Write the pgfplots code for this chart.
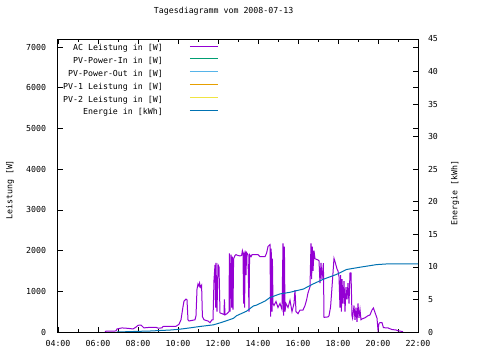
\documentclass[border=0pt]{standalone}
\usepackage{fontspec}
\setmainfont{DejaVu Sans Mono}
\usepackage{pgfplots}
\pgfplotsset{compat=1.18}
\definecolor{cac}{HTML}{9400D3}
\definecolor{cin}{HTML}{009E73}
\definecolor{cout}{HTML}{56B4E9}
\definecolor{cpv1}{HTML}{E69F00}
\definecolor{cpv2}{HTML}{F0E442}
\definecolor{cen}{HTML}{0072B2}
\begin{document}
\begin{tikzpicture}[font=\fontsize{8.3}{10}\selectfont]
\path[use as bounding box] (-58bp,-28bp) rectangle (422bp,332bp);
\pgfplotsset{
  common/.style={
    scale only axis, width=360bp, height=293bp,
    at={(0,0)}, anchor=south west,
    xmin=4, xmax=22,
    tick align=inside, major tick length=5bp, minor tick length=3bp,
    tick style={black, line width=0.7bp},
    axis line style={line width=1bp},
    /pgf/number format/assume math mode=true,
    /pgf/number format/1000 sep={},
  }
}
\begin{axis}[common,
  ymin=0, ymax=7200,
  xtick={4,6,...,22},
  xticklabels={04:00,06:00,08:00,10:00,12:00,14:00,16:00,18:00,20:00,22:00},
  minor x tick num=1,
  ytick={0,1000,...,7000},
  xticklabel style={inner sep=0pt, outer sep=0pt, yshift=-8bp},
  yticklabel style={inner sep=0pt, outer sep=0pt, xshift=-12bp},
  ylabel={Leistung [W]},
  ylabel style={at={(axis description cs:-0.133,0.485)}, anchor=center},
  title={Tagesdiagramm vom 2008-07-13},
  title style={at={(axis description cs:0.46,1.075)}, anchor=center, inner sep=0pt},
  legend plot pos=right,
  legend cell align=right,
  legend image code/.code={\draw[#1] (0bp,2.8bp) -- (28bp,2.8bp);},
  legend style={draw=none, fill=none, at={(axis description cs:0.0139,0.9805)}, anchor=north west,
    inner sep=0pt, row sep=4.8bp, column sep=26.7bp,
    nodes={inner sep=0pt, outer sep=0pt, text height=6bp, text depth=2bp}},
]
\addplot[color=cac, line width=1bp] coordinates {
(6.35,0) (6.4,20) (6.9,25) (6.95,75) (7.2,100) (7.35,95) (7.5,90) (7.75,75) (7.9,120) (8.0,165) (8.15,170) (8.3,100) (8.45,110) (8.9,115) (9.0,95) (9.2,100) (9.25,135) (9.9,140) (10.05,190) (10.15,300) (10.25,620) (10.3,760) (10.4,810) (10.45,790) (10.5,300) (10.55,270) (10.85,300) (10.9,400) (10.95,1050) (11.0,1180) (11.05,1130) (11.08,1200) (11.12,1100) (11.18,1150) (11.22,380) (11.3,300) (11.5,270) (11.6,230) (11.7,300) (11.75,300) (11.8,1280) (11.85,1650) (11.88,600) (11.9,1700) (11.95,500) (12.0,1650) (12.05,1600) (12.1,470) (12.2,450) (12.3,430) (12.32,800) (12.35,420) (12.45,450) (12.55,500) (12.57,1930) (12.6,500) (12.65,1900) (12.68,600) (12.72,1850) (12.75,550) (12.78,1800) (12.85,1880) (12.9,1900) (13.0,1880) (13.1,1870) (13.18,1880) (13.22,2000) (13.25,1950) (13.28,700) (13.3,1950) (13.33,600) (13.36,2000) (13.4,1400) (13.43,1950) (13.5,1900) (13.55,500) (13.58,1900) (13.65,1850) (13.7,1900) (14.0,1900) (14.1,1850) (14.35,1850) (14.43,1940) (14.5,2100) (14.6,2150) (14.63,380) (14.66,2050) (14.7,500) (14.72,1800) (14.75,700) (14.8,650) (14.9,750) (15.0,600) (15.1,700) (15.2,550) (15.25,2180) (15.28,400) (15.32,2100) (15.35,500) (15.4,700) (15.5,600) (15.6,780) (15.7,500) (15.8,700) (15.85,1030) (15.9,500) (16.0,450) (16.1,540) (16.25,540) (16.35,650) (16.43,790) (16.5,960) (16.6,1110) (16.65,2180) (16.68,1300) (16.72,2100) (16.75,1500) (16.8,2000) (16.85,1800) (17.0,1770) (17.05,1750) (17.1,1200) (17.15,1700) (17.2,1300) (17.27,1690) (17.3,360) (17.5,370) (17.55,400) (17.63,620) (17.7,1100) (17.8,1810) (17.85,1730) (17.95,1550) (18.0,1500) (18.05,1360) (18.1,600) (18.13,1400) (18.17,500) (18.2,1300) (18.25,700) (18.3,1250) (18.35,500) (18.4,1100) (18.45,800) (18.5,1200) (18.55,700) (18.6,1450) (18.65,1450) (18.7,400) (18.73,340) (18.8,650) (18.85,300) (18.9,600) (18.95,250) (19.0,700) (19.05,350) (19.1,550) (19.15,300) (19.2,320) (19.35,350) (19.5,400) (19.6,420) (19.7,540) (19.77,590) (19.85,480) (19.95,340) (20.0,50) (20.05,210) (20.1,230) (20.2,230) (20.27,110) (20.4,100) (20.5,100) (20.7,60) (20.9,50) (21.0,30) (21.25,10)
};
\addlegendentry{AC Leistung in [W]}
\addlegendimage{color=cin, line width=1bp}
\addlegendentry{PV-Power-In in [W]}
\addlegendimage{color=cout, line width=1bp}
\addlegendentry{PV-Power-Out in [W]}
\addlegendimage{color=cpv1, line width=1bp}
\addlegendentry{PV-1 Leistung in [W]}
\addlegendimage{color=cpv2, line width=1bp}
\addlegendentry{PV-2 Leistung in [W]}
\addlegendimage{color=cen, line width=1bp}
\addlegendentry{Energie in [kWh]}
\end{axis}
\begin{axis}[common,
  ymin=0, ymax=45,
  axis y line*=right, axis x line=none,
  ytick={0,5,...,45},
  yticklabel style={inner sep=0pt, outer sep=0pt, anchor=west, xshift=10bp},
  ylabel={Energie [kWh]},
  ylabel style={at={(axis description cs:1.103,0.474)}, anchor=center},
]
\addplot[color=cen, line width=1bp] coordinates {
(6.95,0) (7.5,0.05) (8.0,0.1) (8.6,0.15) (9.25,0.25) (9.6,0.3) (10.0,0.4) (10.4,0.55) (11.1,0.85) (11.77,1.1) (12.1,1.4) (12.4,1.7) (12.77,2.1) (12.93,2.5) (13.43,3.2) (13.77,4.0) (13.9,4.1) (14.35,4.75) (14.6,5.3) (15.1,5.85) (15.6,6.1) (16.27,6.6) (16.77,7.4) (17.27,8.1) (17.93,8.85) (18.43,9.6) (19.1,9.95) (19.93,10.35) (20.43,10.45) (22,10.45)
};
\end{axis}
\end{tikzpicture}
\end{document}
